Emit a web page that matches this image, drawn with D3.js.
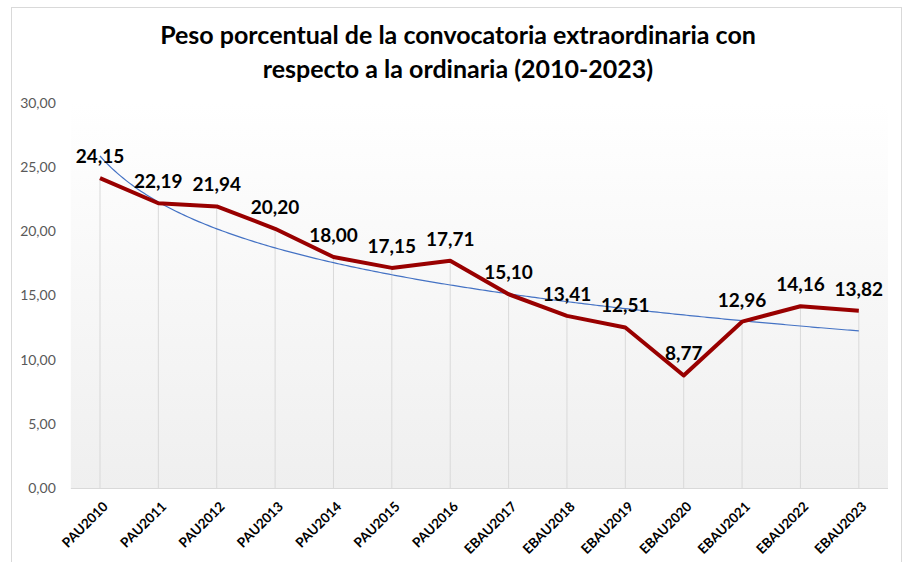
<!DOCTYPE html>
<html>
<head>
<meta charset="utf-8">
<script src="https://cdn.jsdelivr.net/npm/d3@7"></script>
<style>
  body { margin: 0; background: #fff; }
  svg { display: block; font-family: Lato, "Open Sans", sans-serif; }
</style>
</head>
<body>
<svg id="chart" width="907" height="562"></svg>
<script>
// data
var categories = ["PAU2010", "PAU2011", "PAU2012", "PAU2013", "PAU2014", "PAU2015", "PAU2016",
                  "EBAU2017", "EBAU2018", "EBAU2019", "EBAU2020", "EBAU2021", "EBAU2022", "EBAU2023"];
var values = [24.15, 22.19, 21.94, 20.20, 18.00, 17.15, 17.71, 15.10, 13.41, 12.51, 8.77, 12.96, 14.16, 13.82];
var yTicks = [0, 5, 10, 15, 20, 25, 30];
var titleLines = ["Peso porcentual de la convocatoria extraordinaria con",
                  "respecto a la ordinaria (2010-2023)"];

var svg = d3.select("#chart");
var margin = {left: 70.8, right: 19, top: 103, bottom: 74}; // plot 70.8..888, 103..488
var width = 907 - margin.left - margin.right;
var height = 562 - margin.top - margin.bottom;

var fmt = function(v) { return d3.format(".2f")(v).replace(".", ","); };

// outer chart frame
svg.append("rect")
    .attr("x", 11.5).attr("y", 7.5)
    .attr("width", 890).attr("height", 570)
    .attr("fill", "#fff").attr("stroke", "#d9d9d9");

var defs = svg.append("defs");
var grad = defs.append("linearGradient")
    .attr("id", "bg").attr("x1", 0).attr("y1", 0).attr("x2", 0).attr("y2", 1);
grad.append("stop").attr("offset", "0%").attr("stop-color", "#ffffff");
grad.append("stop").attr("offset", "100%").attr("stop-color", "#efefef");

var g = svg.append("g")
    .attr("transform", "translate(" + margin.left + "," + margin.top + ")");

g.append("rect")
    .attr("width", width).attr("height", height)
    .attr("fill", "url(#bg)");

var x = d3.scalePoint()
    .domain(categories)
    .range([0, width])
    .padding(0.5);

var y = d3.scaleLinear()
    .domain([0, 30])
    .range([height, 0]);

// y axis labels (no line)
var yAxis = g.append("g")
    .call(d3.axisLeft(y).tickValues(yTicks).tickFormat(fmt).tickSize(0).tickPadding(15));
yAxis.select(".domain").remove();
yAxis.selectAll("text")
    .attr("fill", "#595959")
    .style("font-size", "14px")
    .style("font-family", "Lato, sans-serif");

// drop lines
g.selectAll(".drop")
    .data(values)
    .enter().append("line")
    .attr("class", "drop")
    .attr("x1", function(d, i) { return x(categories[i]); })
    .attr("x2", function(d, i) { return x(categories[i]); })
    .attr("y1", function(d) { return y(d); })
    .attr("y2", height)
    .attr("stroke", "#d9d9d9")
    .attr("stroke-width", 1);

// x axis line + labels
var xAxis = g.append("g")
    .attr("transform", "translate(0," + height + ")")
    .call(d3.axisBottom(x).tickSize(0).tickPadding(0));
xAxis.select(".domain").attr("stroke", "#d9d9d9").attr("d", "M0,0.5H" + width);
xAxis.selectAll("text")
    .attr("text-anchor", "end")
    .attr("dy", "0.35em")
    .attr("transform", "translate(5,16) rotate(-45)")
    .attr("fill", "#000")
    .style("font-size", "13.5px")
    .style("font-weight", "bold")
    .style("font-family", "Lato, sans-serif");

// logarithmic trendline (least squares on ln(index))
var lx = values.map(function(d, i) { return Math.log(i + 1); });
var mx = d3.mean(lx), my = d3.mean(values);
var b = d3.sum(lx, function(v, i) { return (v - mx) * (values[i] - my); }) /
        d3.sum(lx, function(v) { return (v - mx) * (v - mx); });
var a = my - b * mx;
var step = (x.step());
var trend = d3.range(0, values.length - 1 + 0.001, 0.05).map(function(t) {
    return [x(categories[0]) + t * step, a + b * Math.log(t + 1)];
});
g.append("path")
    .datum(trend)
    .attr("fill", "none")
    .attr("stroke", "#4472c4")
    .attr("stroke-width", 1.2)
    .attr("d", d3.line()
        .x(function(d) { return d[0]; })
        .y(function(d) { return y(d[1]); }));

// main series
g.append("path")
    .datum(values)
    .attr("fill", "none")
    .attr("stroke", "#990000")
    .attr("stroke-width", 4)
    .attr("stroke-linejoin", "round")
    .attr("d", d3.line()
        .x(function(d, i) { return x(categories[i]); })
        .y(function(d) { return y(d); }));

// data labels
g.selectAll(".lbl")
    .data(values)
    .enter().append("text")
    .attr("class", "lbl")
    .attr("x", function(d, i) { return x(categories[i]); })
    .attr("y", function(d) { return y(d) - 15; })
    .attr("text-anchor", "middle")
    .style("font-size", "19px")
    .style("font-weight", "bold")
    .attr("fill", "#000")
    .text(fmt);

// title
svg.selectAll(".title")
    .data(titleLines)
    .enter().append("text")
    .attr("class", "title")
    .attr("x", 458)
    .attr("y", function(d, i) { return 44 + i * 34; })
    .attr("text-anchor", "middle")
    .style("font-size", "25px")
    .style("font-weight", "bold")
    .attr("fill", "#000")
    .text(function(d) { return d; });
</script>
</body>
</html>
